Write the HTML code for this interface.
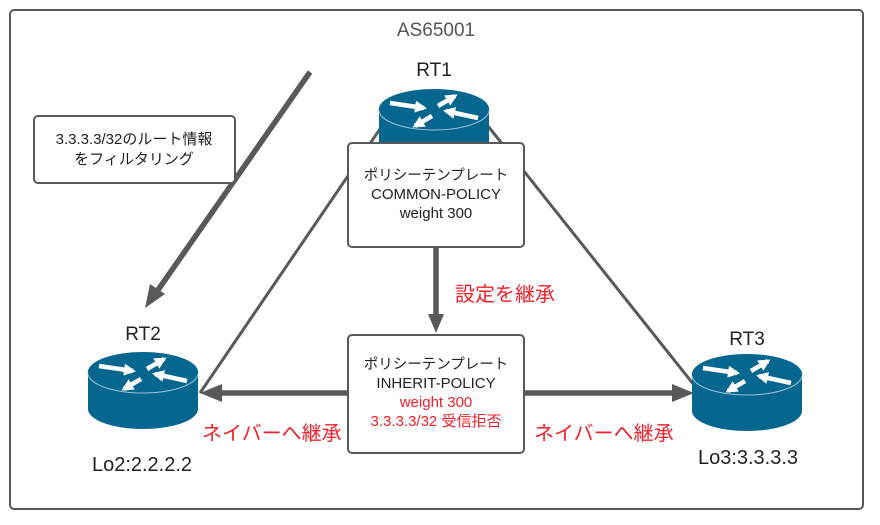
<!DOCTYPE html>
<html><head><meta charset="utf-8"><style>
body{margin:0;background:#fff}
svg{display:block}
text{font-family:"Liberation Sans","Noto Sans CJK JP",sans-serif}
</style></head><body>
<svg width="880" height="525" viewBox="0 0 880 525" xmlns="http://www.w3.org/2000/svg">
<defs>
<marker id="ah" markerWidth="12" markerHeight="12" refX="9" refY="6" orient="auto" markerUnits="userSpaceOnUse"><path d="M0,0 L12,6 L0,12 z" fill="#fff"/></marker>
<g id="rt">
<path d="M-55,0 L-55,36 A55,20 0 0 0 55,36 L55,0 Z" fill="#05668f"/>
<ellipse cx="0" cy="0" rx="55" ry="20" fill="#05668f" stroke="#9cc3d6" stroke-width="1"/>
<ellipse cx="0" cy="-1" rx="55" ry="20" fill="#05668f"/>
<g stroke="#fff" stroke-width="4.5" marker-end="url(#ah)">
<line x1="-44" y1="-7" x2="-10" y2="-2"/>
<line x1="4" y1="-4" x2="21" y2="-14"/>
<line x1="44" y1="8" x2="12" y2="1"/>
<line x1="-2" y1="6" x2="-19" y2="16"/>
</g>
</g>
</defs>
<rect x="10" y="10" width="853" height="499" rx="4" fill="none" stroke="#595959" stroke-width="2"/>
<text x="436" y="36" font-size="19" fill="#555" text-anchor="middle">AS65001</text>

<g stroke="#595959" stroke-width="3" fill="none">
<line x1="382" y1="126" x2="200" y2="393"/>
<line x1="488" y1="126" x2="694" y2="385"/>
</g>
<g stroke="#595959" stroke-width="5.5" fill="none">
<line x1="310" y1="72" x2="158" y2="290"/>
<line x1="436" y1="248" x2="436" y2="316"/>
<line x1="348" y1="393" x2="220" y2="393"/>
<line x1="524" y1="393" x2="674" y2="393"/>
</g>
<g fill="#595959">
<polygon points="145,308 150,284 165,294"/>
<polygon points="436,333 428,314 444,314"/>
<polygon points="200,393 222,384 222,402"/>
<polygon points="694,393 672,384 672,402"/>
</g>

<use href="#rt" x="434" y="110"/>
<use href="#rt" x="143" y="373"/>
<use href="#rt" x="747" y="375"/>

<text x="434" y="76" font-size="19" fill="#222" text-anchor="middle">RT1</text>
<text x="143" y="340" font-size="19" fill="#222" text-anchor="middle">RT2</text>
<text x="747" y="345" font-size="19" fill="#222" text-anchor="middle">RT3</text>
<text x="142" y="471" font-size="20" fill="#222" text-anchor="middle">Lo2:2.2.2.2</text>
<text x="748" y="464" font-size="20" fill="#222" text-anchor="middle">Lo3:3.3.3.3</text>

<rect x="348" y="143" width="176" height="104" rx="4" fill="#fff" stroke="#595959" stroke-width="2"/>
<text x="436" y="180" font-size="14.5" fill="#222" text-anchor="middle">ポリシーテンプレート</text>
<text x="436" y="199" font-size="15" fill="#222" text-anchor="middle">COMMON-POLICY</text>
<text x="436" y="218" font-size="15" fill="#222" text-anchor="middle">weight 300</text>

<rect x="348" y="335" width="176" height="118" rx="4" fill="#fff" stroke="#595959" stroke-width="2"/>
<text x="436" y="369" font-size="14.5" fill="#222" text-anchor="middle">ポリシーテンプレート</text>
<text x="436" y="388" font-size="15" fill="#222" text-anchor="middle">INHERIT-POLICY</text>
<text x="436" y="407" font-size="15" fill="#f0212b" text-anchor="middle">weight 300</text>
<text x="436" y="426" font-size="15" fill="#f0212b" text-anchor="middle">3.3.3.3/32 受信拒否</text>

<rect x="34" y="116" width="201" height="67" rx="4" fill="#fff" stroke="#595959" stroke-width="2"/>
<text x="134" y="144" font-size="15" fill="#222" text-anchor="middle">3.3.3.3/32のルート情報</text>
<text x="134" y="164" font-size="15" fill="#222" text-anchor="middle">をフィルタリング</text>

<text x="455" y="301" font-size="20" fill="#f0212b">設定を継承</text>
<text x="202" y="440" font-size="20" fill="#f0212b">ネイバーへ継承</text>
<text x="534" y="440" font-size="20" fill="#f0212b">ネイバーへ継承</text>
</svg>
</body></html>
